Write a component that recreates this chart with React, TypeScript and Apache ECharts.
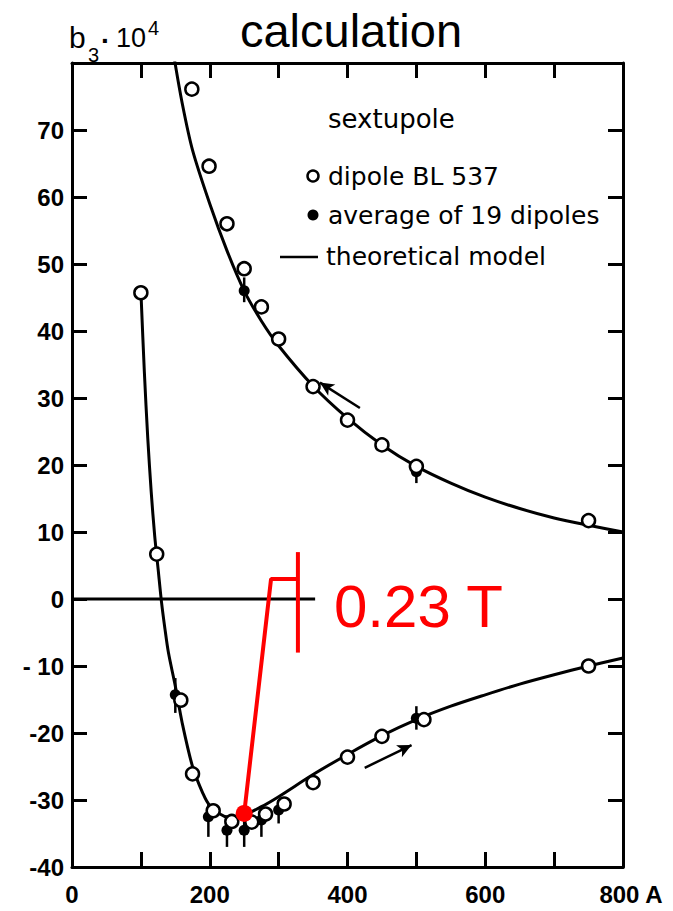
import React, { useEffect, useRef } from "react";
import * as echarts from "echarts";

// theoretical model, upper branch (decreasing current)
const upperModelX = [148, 160, 175, 200, 225, 250, 275, 300, 350, 400, 450, 500, 550, 600, 650, 700, 750, 800];
const upperModelY = [81, 74, 67, 59, 52, 46, 41.5, 37.8, 31.8, 27, 23, 19.8, 17.3, 15.2, 13.5, 12.1, 11, 10];
// theoretical model, lower branch (increasing current)
const lowerModelX = [100, 105, 110, 115, 120, 125, 130, 135, 140, 150, 160, 175, 190, 200, 225, 250, 275, 300, 350, 400, 450, 500, 550, 600, 650, 700, 750, 800];
const lowerModelY = [46, 34, 24, 16, 9.5, 4.5, -0.5, -4.5, -8, -13, -18.5, -25, -29, -30.8, -32.5, -32.2, -31, -29.5, -26.2, -23.2, -20.4, -18, -16, -14.3, -12.7, -11.3, -10, -8.8];

// dipole BL 537 (open circles)
const dipoleUpX = [174, 199, 225, 250, 275, 300, 350, 400, 450, 500, 750];
const dipoleUpY = [76.1, 64.6, 56, 49.3, 43.6, 38.8, 31.7, 26.7, 23, 19.8, 11.7];
const dipoleLoX = [100, 123, 158, 175, 205, 232, 261, 281, 308, 350, 400, 450, 511, 750];
const dipoleLoY = [45.7, 6.7, -15.1, -26.1, -31.6, -33.2, -33.3, -32.1, -30.6, -27.4, -23.6, -20.5, -18, -10];

// average of 19 dipoles (filled dots with error bars)
const avgX = [250, 500, 150, 198, 225, 250, 275, 300, 500];
const avgY = [46, 19, -14.3, -32.5, -34.5, -34.5, -33, -31.5, -17.8];
const avgLo = [44.3, 17.3, -17, -35.5, -37, -37, -35.5, -33.5, -19.5];
const avgHi = [48, 20.5, -11.8, -30.5, -32.5, -32.5, -31.5, -30, -16];

// zero line extent
const zeroLineX = [0, 353];

// red annotation (calculation)
const redPointX = 250;
const redPointY = -32;
const redPathX = [250, 289, 328];
const redPathY = [-32, 3, 3];
const redBarX = 328;
const redBarY = [7, -8];
const redLabel = "0.23 T";

// hysteresis direction arrows
const arrowUp = [[418, 28.5], [360, 32.3]];
const arrowLo = [[425, -25.2], [493, -21.8]];

const xTicks = { min: 0, max: 800, step: 100 };
const yTicks = { min: -40, max: 80, step: 10 };

const TICK_FONT = "'Liberation Sans', Arial, sans-serif";
const LEG_FONT = "'DejaVu Sans', sans-serif";

export default function App() {
  const ref = useRef<HTMLDivElement>(null);
  useEffect(() => {
    if (!ref.current) return;
    document.body.style.margin = "0";
    const chart = echarts.init(ref.current, null, { renderer: "svg" });
    const axisLine = { show: true, onZero: false, lineStyle: { color: "#000", width: 3 } };
    const axisTick = { show: true, inside: true, length: 15, lineStyle: { color: "#000", width: 3 } };
    const zip = (xs: number[], ys: number[]) => xs.map((x, i) => [x, ys[i]]);

    const option: any = {
      animation: false,
      backgroundColor: "#fff",
      grid: { left: 72, right: 50, top: 63, bottom: 44, containLabel: false, outerBoundsMode: "none" },
      xAxis: [
        {
          type: "value", min: xTicks.min, max: xTicks.max, interval: xTicks.step, position: "bottom",
          axisLine, axisTick, splitLine: { show: false },
          axisLabel: {
            margin: 15, fontFamily: TICK_FONT, fontSize: 24, fontWeight: "bold", color: "#000",
            formatter: (v: number) => (v % 200 !== 0 ? "" : v === 800 ? "{u|800 A}" : String(v)),
            rich: {
              u: { fontFamily: TICK_FONT, fontSize: 24, fontWeight: "bold", color: "#000", padding: [0, 0, 0, 16] },
            },
          },
        },
        {
          type: "value", min: xTicks.min, max: xTicks.max, interval: xTicks.step, position: "top",
          axisLine, axisTick, splitLine: { show: false }, axisLabel: { show: false },
        },
      ],
      yAxis: [
        {
          type: "value", min: yTicks.min, max: yTicks.max, interval: yTicks.step, position: "left",
          axisLine, axisTick, splitLine: { show: false },
          axisLabel: {
            margin: 8, fontFamily: TICK_FONT, fontSize: 24, fontWeight: "bold", color: "#000",
            formatter: (v: number) => (v === 80 ? "" : v === -10 ? "- 10" : String(v)),
          },
        },
        {
          type: "value", min: yTicks.min, max: yTicks.max, interval: yTicks.step, position: "right",
          axisLine, axisTick, splitLine: { show: false }, axisLabel: { show: false },
        },
      ],
      series: [
        {
          name: "zero", type: "line", data: zip(zeroLineX, [0, 0]), symbol: "none",
          lineStyle: { color: "#000", width: 3 }, silent: true,
        },
        {
          name: "theoretical model (up)", type: "line", data: zip(upperModelX, upperModelY), symbol: "none",
          smooth: 0.3, lineStyle: { color: "#000", width: 3 }, silent: true,
        },
        {
          name: "theoretical model (low)", type: "line", data: zip(lowerModelX, lowerModelY), symbol: "none",
          smooth: 0.3, lineStyle: { color: "#000", width: 3 }, silent: true,
        },
        {
          name: "arrows", type: "line", data: [], silent: true,
          markLine: {
            silent: true, symbol: ["none", "arrow"], symbolSize: [10, 14],
            label: { show: false },
            lineStyle: { color: "#000", width: 2.5, type: "solid" },
            data: [
              [{ coord: arrowUp[0] }, { coord: arrowUp[1] }],
              [{ coord: arrowLo[0] }, { coord: arrowLo[1] }],
            ],
          },
        },
        {
          name: "error bars", type: "custom",
          data: avgX.map((x, i) => [x, avgLo[i], avgHi[i]]),
          renderItem: (params: any, api: any) => {
            const x = api.value(0);
            const p1 = api.coord([x, api.value(1)]);
            const p2 = api.coord([x, api.value(2)]);
            return {
              type: "line",
              shape: { x1: p1[0], y1: p1[1], x2: p2[0], y2: p2[1] },
              style: { stroke: "#000", lineWidth: 2.5 },
            };
          },
          silent: true, z: 3,
        },
        {
          name: "average of 19 dipoles", type: "scatter", data: zip(avgX, avgY),
          symbol: "circle", symbolSize: 11, itemStyle: { color: "#000", opacity: 1 }, z: 4,
        },
        {
          name: "dipole BL 537", type: "scatter", data: [...zip(dipoleUpX, dipoleUpY), ...zip(dipoleLoX, dipoleLoY)],
          symbol: "circle", symbolSize: 13, itemStyle: { color: "#fff", borderColor: "#000", borderWidth: 2.5, opacity: 1 }, z: 5,
        },
        {
          name: "calc path", type: "line", data: zip(redPathX, redPathY), symbol: "none",
          lineStyle: { color: "#ff0000", width: 4 }, silent: true, z: 6,
        },
        {
          name: "calc bar", type: "line", data: [[redBarX, redBarY[0]], [redBarX, redBarY[1]]], symbol: "none",
          lineStyle: { color: "#ff0000", width: 4 }, silent: true, z: 6,
        },
        {
          name: "calc point", type: "scatter", data: [[redPointX, redPointY]],
          symbol: "circle", symbolSize: 17, itemStyle: { color: "#ff0000", opacity: 1 }, z: 7,
        },
      ],
      graphic: [
        { type: "text", x: 351, y: 30, style: { text: "calculation", fontFamily: TICK_FONT, fontSize: 47, fill: "#000", align: "center", verticalAlign: "middle" } },
        { type: "text", x: 69, y: 37, style: { text: "b", fontFamily: TICK_FONT, fontSize: 30, fill: "#000", verticalAlign: "middle" } },
        { type: "text", x: 88, y: 55, style: { text: "3", fontFamily: TICK_FONT, fontSize: 20, fill: "#000", verticalAlign: "middle" } },
        { type: "text", x: 101, y: 40, style: { text: "·", fontFamily: TICK_FONT, fontSize: 28, fontWeight: "bold", fill: "#000", verticalAlign: "middle" } },
        { type: "text", x: 116, y: 38, style: { text: "10", fontFamily: TICK_FONT, fontSize: 27, fill: "#000", verticalAlign: "middle" } },
        { type: "text", x: 148, y: 28, style: { text: "4", fontFamily: TICK_FONT, fontSize: 20, fill: "#000", verticalAlign: "middle" } },
        // legend
        { type: "text", x: 328, y: 119, style: { text: "sextupole", fontFamily: LEG_FONT, fontSize: 26, fill: "#000", verticalAlign: "middle" } },
        { type: "circle", shape: { cx: 313, cy: 176, r: 5.5 }, style: { fill: "#fff", stroke: "#000", lineWidth: 2.5 } },
        { type: "text", x: 328, y: 176, style: { text: "dipole BL 537", fontFamily: LEG_FONT, fontSize: 25, fill: "#000", verticalAlign: "middle" } },
        { type: "circle", shape: { cx: 313, cy: 215, r: 5.5 }, style: { fill: "#000" } },
        { type: "text", x: 328, y: 215, style: { text: "average of 19 dipoles", fontFamily: LEG_FONT, fontSize: 25, fill: "#000", verticalAlign: "middle" } },
        { type: "line", shape: { x1: 280, y1: 257, x2: 318, y2: 257 }, style: { stroke: "#000", lineWidth: 2.5 } },
        { type: "text", x: 326, y: 256, style: { text: "theoretical model", fontFamily: LEG_FONT, fontSize: 25, fill: "#000", verticalAlign: "middle" } },
        // red annotation label
        { type: "text", x: 334, y: 606, z: 10, style: { text: redLabel, fontFamily: TICK_FONT, fontSize: 60, fill: "#ff0000", verticalAlign: "middle" } },
      ],
    };
    chart.setOption(option);
    return () => chart.dispose();
  }, []);
  return <div ref={ref} style={{ width: 673, height: 911 }} />;
}
